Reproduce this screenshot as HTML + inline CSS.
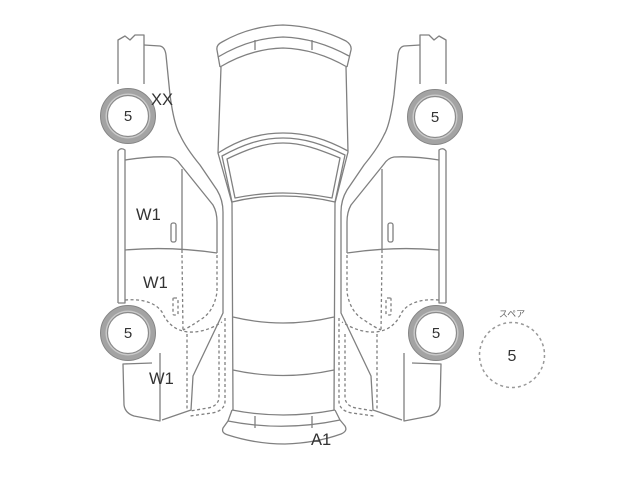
<!DOCTYPE html>
<html><head><meta charset="utf-8">
<style>
html,body{margin:0;padding:0;background:#fff;}
svg{display:block;}
text{font-family:"Liberation Sans","Noto Sans CJK JP",sans-serif;}
</style></head>
<body>
<svg width="640" height="480" viewBox="0 0 640 480" xmlns="http://www.w3.org/2000/svg">
<rect width="640" height="480" fill="#fff"/>
<defs>
<g id="side" fill="none" stroke="#808080" stroke-width="1.3" stroke-linejoin="round">
  <!-- front bumper piece -->
  <path d="M118,84 L118,40 L125,36 L130,40 L135,35 L144,35 L144,84"/>
  <!-- outer silhouette -->
  <path d="M144,45 L160,46 Q165,47 166,55 L170,95 Q174,125 180,135 Q186,148 200,165 L217,190 Q223,200 223,212 L223,313 L193,376 L191,410 L162,420"/>
  <!-- left strip -->
  <path d="M118,303 L118,151 Q121,147 125,150 L125,303 L118,303"/>
  <!-- door -->
  <path d="M125,160 Q150,156 170,157 Q176,158 180,164 L213,205 Q217,212 217,222 L217,253"/>
  <path d="M125,250 Q170,246 217,253"/>
  <path d="M182,169 L182,253"/>
  <rect x="171" y="223" width="5" height="19" rx="2"/>
  <!-- rear bumper piece -->
  <path d="M160,353 L160,421 L134,416 Q125,413 124,405 L123,364 L152,363"/>
  <!-- dashed hidden lines -->
  <g stroke-dasharray="3 2.5">
    <path d="M182,255 L183,332"/>
    <path d="M217,255 L217,292 Q214,312 200,320 Q190,327 183,330"/>
    <path d="M125,300 Q152,298 162,312 Q170,330 188,332 Q205,333 222,322"/>
    <rect x="173" y="298" width="5" height="17" rx="1"/>
    <path d="M187,334 L187,410"/>
    <path d="M219,334 L219,398 Q218,406 208,408 L190,411"/>
    <path d="M225,318 L225,402 Q224,411 212,413 L190,416"/>
  </g>
</g>
<g id="wheel">
  <circle r="27.5" fill="#a3a3a3" stroke="#858585" stroke-width="1"/>
  <circle r="22.5" fill="#c9c9c9"/>
  <circle r="20.5" fill="#fff" stroke="#8a8a8a" stroke-width="1.2"/>
</g>
</defs>

<!-- left side view -->
<use href="#side"/>
<!-- right side view (mirrored) -->
<use href="#side" transform="matrix(-1,0,0,1,564,0)"/>

<!-- center top view -->
<g fill="none" stroke="#808080" stroke-width="1.3" stroke-linejoin="round">
  <!-- front bumper -->
  <path d="M220,67 L217,50 Q216,45 222,42 Q250,26 283,25 Q316,26 346,41 Q352,45 351,50 L347,67"/>
  <path d="M218,57 Q250,38 283,37 Q316,38 349,56"/>
  <path d="M220,67 Q250,49 283,48 Q316,49 347,67"/>
  <path d="M255,40 L255,50 M312,40 L312,50"/>
  <!-- body sides -->
  <path d="M221,67 L218,153 L232,203 L233,410"/>
  <path d="M346,67 L348,152 L335,203 L334,410"/>
  <!-- windshield -->
  <path d="M218,153 C240,139 260,133 283,133 C306,133 326,139 348,151"/>
  <path d="M222,156 C244,144 262,138 283,138 C304,138 322,144 345,155 L335,202 C318,198 300,196 283,196 C266,196 248,198 232,202 Z"/>
  <path d="M227,159 C248,149 264,143 283,143 C302,143 318,149 340,158 L332,198 C316,195 300,193 283,193 C266,193 250,195 235,198 Z"/>
  <!-- roof lines -->
  <path d="M233,317 Q283,329 334,317"/>
  <path d="M233,370 Q283,381 334,370"/>
  <!-- rear bumper -->
  <path d="M232,410 Q283,420 335,410"/>
  <path d="M232,410 L228,421 L223,428 Q221,433 228,435 Q256,444 285,444 Q316,443 341,434 Q348,431 345,426 L340,420 L335,410"/>
  <path d="M228,421 Q283,432 340,420"/>
  <path d="M255,416 L255,428 M312,416 L312,428"/>
</g>

<!-- wheels -->
<use href="#wheel" x="128" y="116"/>
<use href="#wheel" x="128" y="333"/>
<use href="#wheel" x="435" y="117"/>
<use href="#wheel" x="436" y="333"/>

<!-- spare -->
<circle cx="512" cy="355" r="32.5" fill="none" stroke="#999" stroke-width="1.5" stroke-dasharray="3 3"/>

<!-- labels -->
<g fill="#333" font-size="15" text-anchor="middle">
  <text x="128" y="121">5</text>
  <text x="128" y="338">5</text>
  <text x="435" y="122">5</text>
  <text x="436" y="338">5</text>
  <text x="512" y="361" font-size="16">5</text>
</g>
<text x="512" y="317" font-size="9" fill="#666" text-anchor="middle">スペア</text>
<g fill="#333" font-size="16.5">
  <text x="151" y="105">XX</text>
  <text x="136" y="220">W1</text>
  <text x="143" y="288">W1</text>
  <text x="149" y="384">W1</text>
  <text x="311" y="445">A1</text>
</g>
</svg>
</body></html>
